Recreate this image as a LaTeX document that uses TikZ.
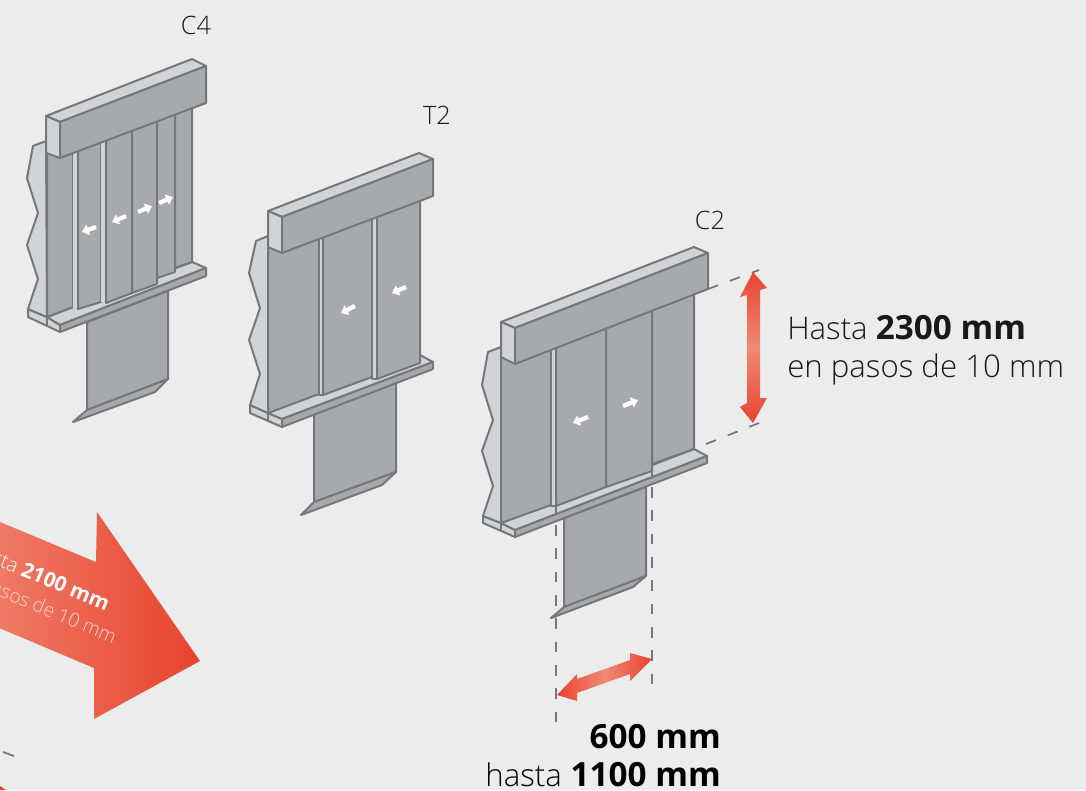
\documentclass[tikz,border=0pt]{standalone}
\usepackage{fontspec}
\setmainfont{Open Sans}
\newfontfamily\lightf{Open Sans Light}
\newcommand{\bigb}[1]{{\fontspec{Open Sans}\fontsize{25}{28.5}\selectfont\bfseries #1}}
\usetikzlibrary{arrows.meta}
\definecolor{bgc}{HTML}{ECECEC}
\definecolor{facec}{HTML}{A8A9AD}
\definecolor{lightc}{HTML}{D2D3D6}
\definecolor{linec}{HTML}{76777B}
\definecolor{redA}{HTML}{E8432F}
\definecolor{redB}{HTML}{F08A75}
\definecolor{paleT}{HTML}{FBD5CC}
\tikzset{
  x=0.75pt,y=-0.75pt,
  face/.style={fill=facec,draw=linec,line width=1.5pt,line join=round},
  lightface/.style={fill=lightc,draw=linec,line width=1.5pt,line join=round},
  gapline/.style={draw=linec,line width=1.5pt},
  dim/.style={draw=linec,line width=1.3pt,dash pattern=on 8pt off 9.5pt},
  whitearrow/.style={draw=white,line width=3.2pt,-{Triangle[length=5pt,width=8pt]}},
  caption/.style={font=\lightf\fontsize{19}{20}\selectfont,text=black!90,inner sep=0pt},
  bigtext/.style={font=\lightf\fontsize{23.4}{28.5}\selectfont,text=black!90,inner sep=0pt,align=left},
  bigbold/.style={font=\fontsize{25}{28.5}\selectfont,text=black,inner sep=0pt,align=right},
}
\begin{document}
\begin{tikzpicture}
\useasboundingbox (0,0) rectangle (1086,790);
\clip (0,0) rectangle (1086,790);
\fill[bgc] (0,0) rectangle (1086,790);

% big arrow
\path[left color=redB,right color=redA] (-60,497) -- (96,562) -- (97,512) -- (200,661) -- (94,719) -- (94,668) -- (-60,603) -- cycle;
\node[rotate=-22.6,anchor=base east,inner sep=0pt,text=white,font=\lightf\fontsize{15}{18}\selectfont] (bigA) at (106,611) {Hasta {\fontspec{Open Sans}\fontsize{15.5}{18}\selectfont\bfseries 2100 mm}};
\node[rotate=-22.6,anchor=base east,inner sep=0pt,text=paleT,font=\lightf\fontsize{14.5}{18}\selectfont] (bigB) at (113,644) {en pasos de 10 mm};
\coordinate (fragA) at (3,752); \coordinate (fragB) at (14,756);
\draw[linec,line width=1.3pt] (fragA) -- (fragB);
\fill[redA] (0,786) -- (6,790) -- (0,790) -- cycle;

%%% C4
\draw[face] (87,322) -- (168,291) -- (168,379) -- (87,410) -- cycle;
\draw[face] (73,422) -- (87,410) -- (168,379) -- (155,392) -- cycle;
\draw[lightface] (28,309) -- (28,317) -- (60,332) -- (60,325) -- (47,317) -- cycle;
\draw[lightface] (33,146) -- (46,141) -- (47,317) -- (28,309) -- (38,279) -- (27,245) -- (38,213) -- (27,178) -- cycle;
\draw[lightface] (47,317) -- (192,262) -- (206,268) -- (60,325) -- cycle;
\draw[face] (60,325) -- (206,268) -- (206,276) -- (60,332) -- cycle;
\draw[gapline] (47,317) -- (47,325);
\draw[face] (47,150) -- (73,150) -- (73,307) -- (47,317) -- cycle;
\fill[lightc] (73,150) rectangle (78,308);
\draw[face] (78,146) -- (101,140) -- (101,302) -- (78,309) -- cycle;
\fill[lightc] (101,140) rectangle (106,302);
\draw[face] (106,136) -- (132,126) -- (132,293) -- (106,303) -- cycle;
\draw[face] (132,126) -- (157,116) -- (157,284) -- (132,293) -- cycle;
\draw[face] (157,116) -- (175,109) -- (175,272) -- (157,278) -- cycle;
\draw[face] (175,109) -- (192,103) -- (192,262) -- (175,268) -- cycle;
\draw[lightface] (46,116) -- (192,59) -- (206,66) -- (60,122) -- cycle;
\draw[lightface] (46,116) -- (60,122) -- (60,158) -- (46,153) -- cycle;
\draw[face] (60,122) -- (206,66) -- (206,103) -- (60,158) -- cycle;
\draw[whitearrow] (96,227) -- (82,232);
\draw[whitearrow] (126,216) -- (112,222);
\draw[whitearrow] (138,212) -- (152,206);
\draw[whitearrow] (159,203) -- (173,197);

%%% T2
\draw[face] (314,413) -- (396,383) -- (396,472) -- (314,502) -- cycle;
\draw[face] (301,515) -- (314,502) -- (396,472) -- (382,485) -- cycle;
\draw[lightface] (250,405) -- (250,413) -- (282,427) -- (282,419) -- (268,413) -- cycle;
\draw[lightface] (256,241) -- (268,236) -- (268,413) -- (250,405) -- (260,374) -- (249,340) -- (260,308) -- (249,273) -- cycle;
\draw[lightface] (268,413) -- (420,355) -- (433,362) -- (282,419) -- cycle;
\draw[face] (282,419) -- (433,362) -- (433,369) -- (282,427) -- cycle;
\draw[gapline] (268,413) -- (268,420);
\draw[face] (268,240) -- (319,225) -- (319,394) -- (268,413) -- cycle;
\draw[lightface] (319,230) rectangle (323,395);
\draw[face] (323,225) -- (372,205) -- (372,377) -- (323,395) -- cycle;
\draw[lightface] (372,210) rectangle (377,379);
\draw[face] (377,205) -- (420,190) -- (420,363) -- (377,379) -- cycle;
\draw[lightface] (268,211) -- (419,153) -- (433,159) -- (282,217) -- cycle;
\draw[lightface] (268,211) -- (282,217) -- (282,253) -- (268,247) -- cycle;
\draw[face] (282,217) -- (433,159) -- (433,196) -- (282,253) -- cycle;
\draw[whitearrow] (355,306) -- (341,313);
\draw[whitearrow] (406,287) -- (392,293);

%%% C2
\coordinate (vtL) at (556,525); \coordinate (vbL) at (556,722);
\coordinate (vtR) at (652,487); \coordinate (vbR) at (652,685);
\draw[dim] (vtL) -- (vbL);
\draw[dim] (vtR) -- (vbR);
\draw[face] (564,518) -- (646,487) -- (646,576) -- (564,607) -- cycle;
\draw[face] (551,618) -- (564,607) -- (646,576) -- (633,587) -- cycle;
\draw[lightface] (483,516) -- (483,523) -- (515,537) -- (515,530) -- (501,523) -- cycle;
\draw[lightface] (488,352) -- (501,347) -- (501,523) -- (483,516) -- (493,486) -- (482,451) -- (493,420) -- (482,385) -- cycle;
\draw[lightface] (501,523) -- (694,449) -- (707,456) -- (515,530) -- cycle;
\draw[face] (515,530) -- (707,456) -- (707,463) -- (515,537) -- cycle;
\draw[gapline] (501,523) -- (501,530);
\draw[gapline] (556,506) -- (556,514);
\draw[gapline] (652,471) -- (652,477);
\draw[face] (501,345) -- (551,335) -- (551,505) -- (501,523) -- cycle;
\draw[lightface] (551,335) rectangle (556,506);
\draw[face] (556,335) -- (606,315) -- (606,487) -- (556,506) -- cycle;
\draw[face] (606,315) -- (652,297) -- (652,471) -- (606,487) -- cycle;
\draw[face] (652,297) -- (694,280) -- (694,449) -- (652,464) -- cycle;
\draw[lightface] (501,322) -- (694,247) -- (708,253) -- (515,328) -- cycle;
\draw[lightface] (501,322) -- (515,328) -- (515,364) -- (501,357) -- cycle;
\draw[face] (515,328) -- (708,253) -- (708,289) -- (515,364) -- cycle;
\draw[whitearrow] (588,417) -- (573,423);
\draw[whitearrow] (623,406) -- (638,400);

% slanted dimension lines
\coordinate (dA) at (708,289); \coordinate (dB) at (759,270);
\coordinate (dC) at (706,444); \coordinate (dD) at (759,423);
\draw[dim] (dA) -- (dB);
\draw[dim] (dC) -- (dD);

% red arrows
\path[top color=redA,bottom color=redA,middle color=redB] (753,272) -- (767,288) -- (760,290) -- (760,398) -- (767,398) -- (753,423) -- (740,407) -- (747,403) -- (747,295) -- (740,297) -- cycle;
\path[left color=redA,right color=redA,middle color=redB] (557,695) -- (577,674) -- (577,679) -- (630,660) -- (630,653) -- (652,659) -- (630,681) -- (630,674) -- (577,693) -- (577,701) -- cycle;

% labels
\node[caption] (c4) at (196,25) {C4};
\node[caption] (t2) at (437,115) {T2};
\node[caption] (c2) at (710,220) {C2};
\node[bigtext,anchor=base west] (h) at (787,377) {Hasta \bigb{2300 mm}\\en pasos de 10 mm};
\node[bigbold,anchor=base east] (w1) at (721,748) {\bfseries 600 mm};
\node[bigbold,anchor=base east] (w2) at (721,786) {{\lightf\fontsize{23.4}{28.5}\selectfont hasta} \bfseries 1100 mm};
\end{tikzpicture}
\end{document}
